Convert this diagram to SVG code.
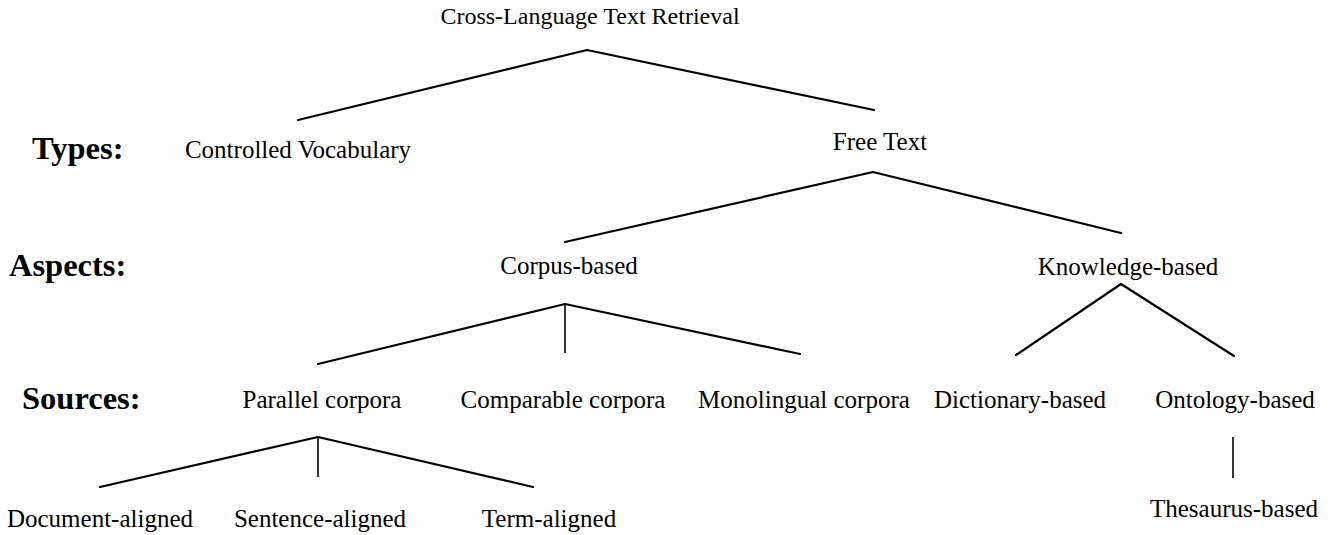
<svg xmlns="http://www.w3.org/2000/svg" width="1331" height="535" viewBox="0 0 1331 535">
<style>
.t{font-family:"Liberation Serif","Times New Roman",serif;font-size:25px;fill:#000;text-anchor:middle}
.h{font-family:"Liberation Serif","Times New Roman",serif;font-size:32.5px;font-weight:bold;fill:#000}
.c{stroke:#000;stroke-width:2.2;fill:none;stroke-linecap:round;stroke-linejoin:round}
.v{stroke:#000;stroke-width:1.6;fill:none}
</style>
<rect width="1331" height="535" fill="#fff"/>
<g id="labels">
<text class="h" x="32" y="159">Types:</text>
<text class="h" x="9" y="276">Aspects:</text>
<text class="h" x="22" y="409">Sources:</text>
</g>
<g id="connectors">
<polyline class="c" points="298,120 587,50 874,110"/>
<polyline class="c" points="565,242 873,172 1121,233"/>
<polyline class="c" points="318,364 565,304 800,354"/>
<line class="v" x1="565" y1="304" x2="565" y2="353"/>
<polyline class="c" points="1016,355 1121,284 1234,356"/>
<polyline class="c" points="100,487 318,437 533,487"/>
<line class="v" x1="318" y1="437" x2="318" y2="477"/>
<line class="v" x1="1233" y1="437" x2="1233" y2="478"/>
</g>
<g id="n-root"><text class="t" x="590" y="24" style="font-size:24px">Cross-Language Text Retrieval</text></g>
<g id="n-controlled"><text class="t" x="298" y="158">Controlled Vocabulary</text></g>
<g id="n-free"><text class="t" x="880" y="150">Free Text</text></g>
<g id="n-corpus"><text class="t" x="569" y="274">Corpus-based</text></g>
<g id="n-knowledge"><text class="t" x="1128" y="275">Knowledge-based</text></g>
<g id="n-parallel"><text class="t" x="322" y="408">Parallel corpora</text></g>
<g id="n-comparable"><text class="t" x="563" y="408">Comparable corpora</text></g>
<g id="n-monolingual"><text class="t" x="804" y="408">Monolingual corpora</text></g>
<g id="n-dictionary"><text class="t" x="1020" y="408">Dictionary-based</text></g>
<g id="n-ontology"><text class="t" x="1235" y="408">Ontology-based</text></g>
<g id="n-document"><text class="t" x="100" y="527">Document-aligned</text></g>
<g id="n-sentence"><text class="t" x="320" y="527">Sentence-aligned</text></g>
<g id="n-term"><text class="t" x="549" y="527">Term-aligned</text></g>
<g id="n-thesaurus"><text class="t" x="1234" y="517">Thesaurus-based</text></g>
</svg>
